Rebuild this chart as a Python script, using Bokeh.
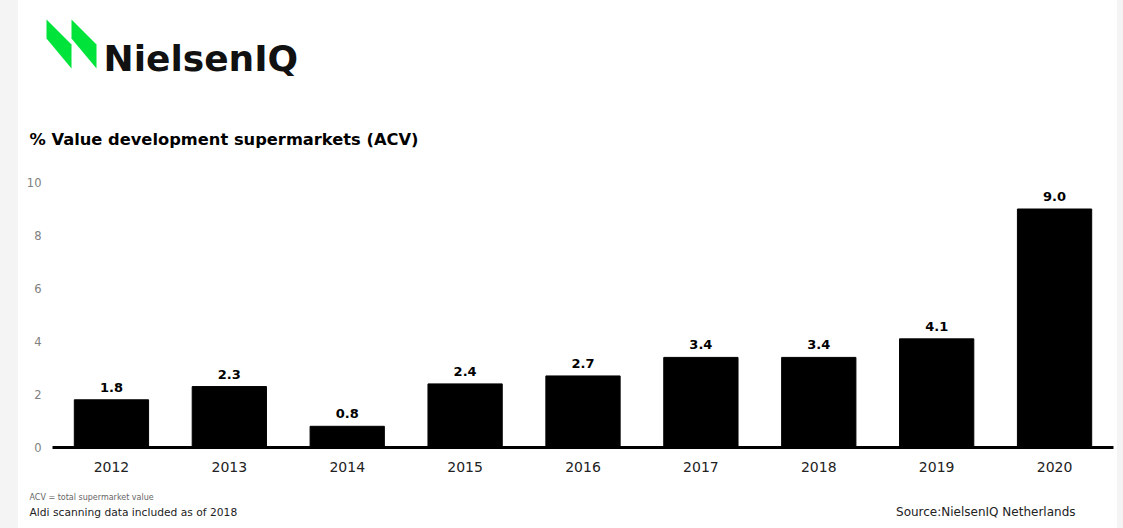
from bokeh.plotting import figure
from bokeh.models import ColumnDataSource, FixedTicker, Spacer
from bokeh.layouts import column, row
from bokeh.core.properties import value
from bokeh.embed import file_html
from bokeh.resources import INLINE

# ---- data ----
years = ["2012", "2013", "2014", "2015", "2016", "2017", "2018", "2019", "2020"]
growth = [1.8, 2.3, 0.8, 2.4, 2.7, 3.4, 3.4, 4.1, 9.0]
y_ticks = [0, 2, 4, 6, 8, 10]

brand = "NielsenIQ"
title_text = "% Value development supermarkets (ACV)"
note1 = "ACV = total supermarket value"
note2 = "Aldi scanning data included as of 2018"
source_text = "Source:NielsenIQ Netherlands"

FONT = "DejaVu Sans"
STRIP = "#f4f4f4"
W = 1099  # white area width


def blank(height, y0, y1):
    f = figure(width=W, height=height, x_range=(18, 18 + W), y_range=(y1, y0),
               output_backend="svg", toolbar_location=None,
               x_axis_location=None, y_axis_location=None,
               min_border=0, min_border_left=0, min_border_right=0,
               min_border_top=0, min_border_bottom=0)
    f.frame_align = False
    f.outline_line_color = None
    f.xgrid.grid_line_color = None
    f.ygrid.grid_line_color = None
    f.background_fill_color = "white"
    f.border_fill_color = "white"
    return f


# ---- header: logo + title ----
head = blank(160, 0, 160)
logo_xs = [[46, 71, 71, 46], [71, 96, 96, 71]]
logo_ys = [[19, 44, 68, 38], [19, 44, 68, 38]]
head.patches(xs=logo_xs, ys=logo_ys, fill_color="#00e33a", line_color=None)
head.text(x=[103], y=[58], text=[brand], text_font=value(FONT), text_font_style="bold",
          text_font_size="36px", text_color="#111111", text_baseline="middle")
head.text(x=[29], y=[139], text=[title_text], text_font=value(FONT), text_font_style="bold",
          text_font_size="16.3px", text_color="black", text_baseline="middle")

# ---- main chart ----
src = ColumnDataSource(dict(year=years, val=growth, lbl=[f"{v:.1f}" for v in growth]))

p = figure(x_range=years, y_range=(0, 10), width=W, height=322,
           output_backend="svg", toolbar_location=None,
           min_border_left=34, min_border_right=4, min_border_top=22, min_border_bottom=35)
p.frame_align = False
p.background_fill_color = "white"
p.border_fill_color = "white"
p.outline_line_color = None
p.xgrid.grid_line_color = None
p.ygrid.grid_line_color = None

p.vbar(x="year", top="val", width=0.63, source=src, color="black")
p.text(x="year", y="val", text="lbl", source=src, text_align="center", text_baseline="bottom",
       y_offset=-8, text_font=value(FONT), text_font_style="bold", text_font_size="13px",
       text_color="black")

xa = p.xaxis[0]
xa.axis_line_color = "black"
xa.axis_line_width = 3
xa.major_tick_line_color = None
xa.minor_tick_line_color = None
xa.major_label_text_font = FONT
xa.major_label_text_font_size = "14px"
xa.major_label_text_color = "#222222"
xa.major_label_standoff = 8

ya = p.yaxis[0]
ya.ticker = FixedTicker(ticks=y_ticks)
ya.axis_line_color = None
ya.major_tick_line_color = None
ya.minor_tick_line_color = None
ya.major_label_text_font = FONT
ya.major_label_text_font_size = "11.5px"
ya.major_label_text_color = "#808080"
ya.major_label_standoff = 5

# ---- footer ----
foot = blank(46, 482, 528)
foot.text(x=[29], y=[497], text=[note1], text_font=value(FONT), text_font_size="8px",
          text_color="#666666", text_baseline="middle")
foot.text(x=[29], y=[512], text=[note2], text_font=value(FONT), text_font_size="10.7px",
          text_color="#222222", text_baseline="middle")
foot.text(x=[1075], y=[511], text=[source_text], text_font=value(FONT), text_font_size="12px",
          text_color="#222222", text_baseline="middle", text_align="right")

left = Spacer(width=18, height=528, styles={"background-color": STRIP})
right = Spacer(width=6, height=528, styles={"background-color": STRIP})
layout = row(left, column(head, p, foot, spacing=0), right, spacing=0)

open("out.html", "w").write(file_html(layout, INLINE))
